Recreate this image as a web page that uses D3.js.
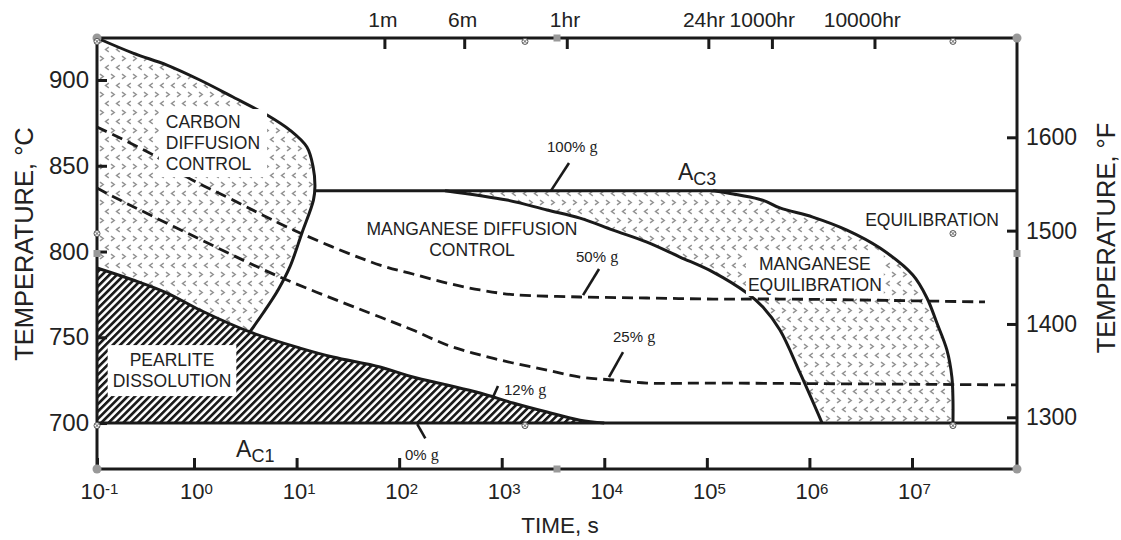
<!DOCTYPE html>
<meta charset="utf-8">
<style>
body { margin: 0; background: #fff; }
svg { display: block; }
text { font-family: "Liberation Sans", Arial, sans-serif; fill: #222; }
.solid { fill: none; stroke: #1a1a1a; stroke-width: 3; }
.leader { fill: none; stroke: #1a1a1a; stroke-width: 2.6; }
.dash { fill: none; stroke: #1a1a1a; stroke-width: 2.8; stroke-dasharray: 11 6; }
.frame { fill: none; stroke: #1a1a1a; stroke-width: 3; }
.axis path { display: none; }
.axis line { stroke: #1a1a1a; stroke-width: 3; }
.axis text { fill: #222; font-family: "Liberation Sans", Arial, sans-serif; }
.gam { font-family: "Liberation Serif", serif; }
</style>
<svg width="1121" height="540"></svg>
<script src="https://cdn.jsdelivr.net/npm/d3@7"></script>
<script>

// time in seconds, temperature in deg C
var AC1 = 700, AC3 = 835.5;
var decadeExps = [-1, 0, 1, 2, 3, 4, 5, 6, 7];
var cTicks = [700, 750, 800, 850, 900];
var fTicks = [1300, 1400, 1500, 1600];
var topTickSecs = [60, 360, 3600, 86400, 360000, 3600000];
var topTickNames = ["1m", "6m", "1hr", "24hr", "1000hr", "10000hr"];

var carbonFront = [[0.1, 924.5], [0.254, 915.7], [0.545, 908.7], [1.14, 900], [2.4, 890.1],
  [5.15, 879.6], [8.6, 870.8], [12.6, 860.9], [14.5, 849.3], [15.1, 838], [14.6, 830],
  [11.3, 811], [8.6, 791], [6.6, 777.6], [4.7, 764], [3.5, 753.1]];
var pearliteTop = [[0.1, 790.4], [0.254, 783.4], [0.545, 775.8], [1.14, 765.9], [3.5, 753.1],
  [10.8, 743.7], [22.6, 738.5], [65, 732.7], [136, 726.8], [293, 722.2], [614, 717.5],
  [1288, 711.7], [2766, 706.4], [5800, 701.7], [10000, 700]];
var mnDiffFront = [[280, 835.5], [1127, 830], [2766, 824.2], [5800, 819.5], [12170, 812.5],
  [26070, 805.5], [54700, 796.8], [1.15e5, 788], [2.46e5, 775.8], [3.52e5, 767.6],
  [5.16e5, 754.2], [8.1e5, 729.2], [1.33e6, 700]];
var mnEquilFront = [[1.15e5, 835.5], [3.5e5, 830], [5.16e5, 825.4], [1.08e6, 820.1],
  [2.32e6, 812.5], [4.88e6, 802], [1.02e7, 786.3], [1.4e7, 772.9], [1.75e7, 758.3],
  [2.19e7, 742.6], [2.45e7, 726.8], [2.51e7, 713.4], [2.51e7, 700]];
var gamma50 = [[0.1, 872.6], [0.436, 855.1], [0.855, 843.4], [2.4, 830], [10.8, 810.8],
  [65, 792.1], [136, 786.9], [293, 781.6], [614, 777.6], [1288, 774.9], [5800, 773.5],
  [26070, 772.9], [1.15e5, 772.3], [5.2e5, 772.3], [5.15e7, 770.6]];
var gamma25 = [[0.1, 837], [0.19, 830], [0.855, 810.8], [6.9, 785.1], [65, 761.8],
  [136, 754.2], [293, 745.5], [614, 739.7], [1288, 735], [2766, 730.9], [5800, 726.8],
  [12170, 725.1], [26070, 723.3], [1.15e5, 723.3], [1.05e8, 722.2]];
var ac3Start = 15.1;

var leaderNames = ["100% ", "50% ", "25% ", "12% ", "0% "];
var leaderFrom = [[4530, 851.6], [8890, 789.8], [15230, 741.4], [920, 721.6], [150, 699.4]];
var leaderTo = [[3025, 835.5], [6210, 774.6], [11120, 726.8], [823, 715.2], [180, 691]];
var leaderTextAt = [[2766, 858], [5300, 793.9], [12170, 747.2], [1052, 716.3], [114, 678.4]];

var regionLines = [["CARBON", "DIFFUSION", "CONTROL"], ["PEARLITE", "DISSOLUTION"],
  ["MANGANESE DIFFUSION", "CONTROL"], ["MANGANESE", "EQUILIBRATION"], ["EQUILIBRATION"]];
var regionAt = [[0.53, 872], [0.61, 733.2], [513, 809.6], [1.13e6, 789.2], [1.57e7, 814.9]];

var svg = d3.select("svg");

var x = d3.scaleLog().domain([Math.pow(10, -0.946), Math.pow(10, 8.024)]).range([97, 1017]).clamp(true);
// the hour scale on top sits a little right of the seconds scale in the source
var xTop = x.copy().range([105, 1025]);
var y = d3.scaleLinear().domain([673.2, 924.5]).range([469, 38]);
var yF = d3.scaleLinear().domain([1244.6, 1706.4]).range([469, 38]);

var line = d3.line()
  .x(function(d) { return x(d[0]); })
  .y(function(d) { return y(d[1]); })
  .curve(d3.curveCatmullRom.alpha(0.5));
var straight = d3.line()
  .x(function(d) { return x(d[0]); })
  .y(function(d) { return y(d[1]); });
function cont(pts) { return line(pts).replace(/^M/, "L"); }

// patterns
var defs = svg.append("defs");
var dots = defs.append("pattern").attr("id", "dots")
  .attr("patternUnits", "userSpaceOnUse").attr("width", 11).attr("height", 18);
dots.append("path").attr("d", "M1,2.2L4.2,4.5L1,6.8M9.8,11.2L6.6,13.5L9.8,15.8")
  .attr("fill", "none").attr("stroke", "#939393").attr("stroke-width", 1.5);
var hatch = defs.append("pattern").attr("id", "hatch")
  .attr("patternUnits", "userSpaceOnUse").attr("width", 5.2).attr("height", 5.2)
  .attr("patternTransform", "rotate(45)");
hatch.append("rect").attr("width", 2.7).attr("height", 5.2).attr("fill", "#1a1a1a");

// filled regions
var pearliteLeft = pearliteTop.filter(function(d) { return d[0] <= 3.5; }).reverse();
svg.append("path").attr("fill", "url(#dots)")
  .attr("d", line(carbonFront) + cont(pearliteLeft) + "Z");
svg.append("path").attr("fill", "url(#hatch)")
  .attr("d", line(pearliteTop) + "L" + x(0.1) + "," + y(AC1) + "Z");
svg.append("path").attr("fill", "url(#dots)")
  .attr("d", "M" + x(mnDiffFront[0][0]) + "," + y(AC3) + cont(mnEquilFront) +
    cont(mnDiffFront.slice().reverse()) + "Z");

// dashed iso-austenite lines
[gamma50, gamma25].forEach(function(s) {
  svg.append("path").attr("class", "dash").attr("d", line(s));
});

// region labels (white boxes sit over fills and dashes)
var labelG = svg.append("g").attr("font-size", 17.5);
var regionAnchor = ["start", "middle", "middle", "middle", "middle"];
var regionPad = [[7, 3], [5, 5], null, [2, 1], null];
var boxes = labelG.append("g");
regionLines.forEach(function(lines, i) {
  var t = labelG.append("text")
    .attr("text-anchor", regionAnchor[i])
    .attr("transform", "translate(" + x(regionAt[i][0]) + "," + y(regionAt[i][1]) + ")");
  lines.forEach(function(s, j) {
    t.append("tspan").attr("x", 0).attr("dy", j ? 21 : 0).text(s);
  });
  if (regionPad[i]) {
    var b = t.node().getBBox();
    boxes.append("rect")
      .attr("x", x(regionAt[i][0]) + b.x - regionPad[i][0])
      .attr("y", y(regionAt[i][1]) + b.y - regionPad[i][1])
      .attr("width", b.width + 2 * regionPad[i][0])
      .attr("height", b.height + 2 * regionPad[i][1])
      .attr("fill", "#fff");
  }
});

// solid boundaries
[carbonFront, pearliteTop, mnDiffFront, mnEquilFront].forEach(function(s) {
  svg.append("path").attr("class", "solid").attr("d", line(s));
});
svg.append("path").attr("class", "solid")
  .attr("d", straight([[ac3Start, AC3], [x.domain()[1], AC3]]));
svg.append("path").attr("class", "solid")
  .attr("d", straight([[x.domain()[0], AC1], [x.domain()[1], AC1]]));

// leaders and their percent labels
leaderNames.forEach(function(n, i) {
  svg.append("path").attr("class", "leader").attr("d", straight([leaderFrom[i], leaderTo[i]]));
  var t = svg.append("text").attr("font-size", 15)
    .attr("x", x(leaderTextAt[i][0])).attr("y", y(leaderTextAt[i][1])).text(n);
  t.append("tspan").attr("class", "gam").attr("font-size", 16).text("g");
});
labelG.raise();

// A_C3 and A_C1
function critLabel(sub, t, T) {
  var tx = svg.append("text").attr("font-size", 23).attr("x", x(t)).attr("y", y(T)).text("A");
  tx.append("tspan").attr("font-size", 18).attr("dy", 5).text(sub);
}
critLabel("C3", 5.23e4, 841.7);
critLabel("C1", 2.57, 680.2);

// frame
svg.append("rect").attr("class", "frame")
  .attr("x", x.range()[0]).attr("y", y.range()[1])
  .attr("width", x.range()[1] - x.range()[0]).attr("height", y.range()[0] - y.range()[1]);

// axes with inward ticks
var gl = svg.append("g").attr("class", "axis").attr("transform", "translate(" + x.range()[0] + ",0)")
  .call(d3.axisLeft(y).tickValues(cTicks).tickSize(-10).tickPadding(8).tickFormat(d3.format("d")));
gl.selectAll("text").attr("font-size", 24);

var gr = svg.append("g").attr("class", "axis").attr("transform", "translate(" + x.range()[1] + ",0)")
  .call(d3.axisRight(yF).tickValues(fTicks).tickSize(-10).tickPadding(9).tickFormat(d3.format("d")));
gr.selectAll("text").attr("font-size", 23);

var gb = svg.append("g").attr("class", "axis").attr("transform", "translate(0," + y.range()[0] + ")")
  .call(d3.axisBottom(x).tickValues(decadeExps.map(function(e) { return Math.pow(10, e); }))
    .tickSize(-11).tickFormat(""));
gb.selectAll(".tick").append("text")
  .attr("y", 30).attr("dx", 2).attr("font-size", 22).attr("text-anchor", "middle")
  .text("10")
  .append("tspan").attr("font-size", 15).attr("dy", -5)
  .text(function(d, i) { return String(decadeExps[i]); });

var gt = svg.append("g").attr("class", "axis").attr("transform", "translate(0," + y.range()[1] + ")")
  .call(d3.axisTop(xTop).tickValues(topTickSecs).tickSize(-11).tickPadding(11)
    .tickFormat(function(d, i) { return topTickNames[i]; }));
gt.selectAll("text").attr("font-size", 21)
  .attr("dx", function() { return -(this.getComputedTextLength() - 20) / 4.5; });

// axis titles
svg.append("text").attr("font-size", 25.5).attr("text-anchor", "middle")
  .attr("transform", "translate(33,244) rotate(-90)").text("TEMPERATURE, \u00b0C");
svg.append("text").attr("font-size", 25.5).attr("text-anchor", "middle")
  .attr("transform", "translate(1115,238) rotate(-90)").text("TEMPERATURE, \u00b0F");
svg.append("text").attr("font-size", 22.5).attr("text-anchor", "middle")
  .attr("x", 560).attr("y", 533).text("TIME, s");

// selection handles left over in the source drawing
var hx = x.range(), hy = y.range();
var handles = svg.append("g");
[[hx[0], hy[1]], [hx[1], hy[1]], [hx[0], hy[0]], [hx[1], hy[0]]].forEach(function(p) {
  handles.append("circle").attr("cx", p[0]).attr("cy", p[1]).attr("r", 4.5).attr("fill", "#999");
});
[[(hx[0] + hx[1]) / 2, hy[1]], [(hx[0] + hx[1]) / 2, hy[0]], [hx[0], (hy[0] + hy[1]) / 2], [hx[1], (hy[0] + hy[1]) / 2]]
  .forEach(function(p) {
    handles.append("rect").attr("x", p[0] - 3.5).attr("y", p[1] - 3.5)
      .attr("width", 7).attr("height", 7).attr("fill", "#999");
  });
var sx0 = x(0.1), sx1 = x(2.51e7), sy0 = y(922.5), sy1 = y(698.5);
[[sx0, sy0], [(sx0 + sx1) / 2, sy0], [sx1, sy0], [sx0, (sy0 + sy1) / 2], [sx1, (sy0 + sy1) / 2],
 [sx0, sy1], [(sx0 + sx1) / 2, sy1], [sx1, sy1]].forEach(function(p) {
  var g = handles.append("g").attr("transform", "translate(" + p[0] + "," + p[1] + ")");
  g.append("circle").attr("r", 3).attr("fill", "#fff").attr("stroke", "#555").attr("stroke-width", 1);
  g.append("path").attr("d", "M-2,-2L2,2M-2,2L2,-2").attr("stroke", "#555").attr("stroke-width", 0.9);
});

</script>
